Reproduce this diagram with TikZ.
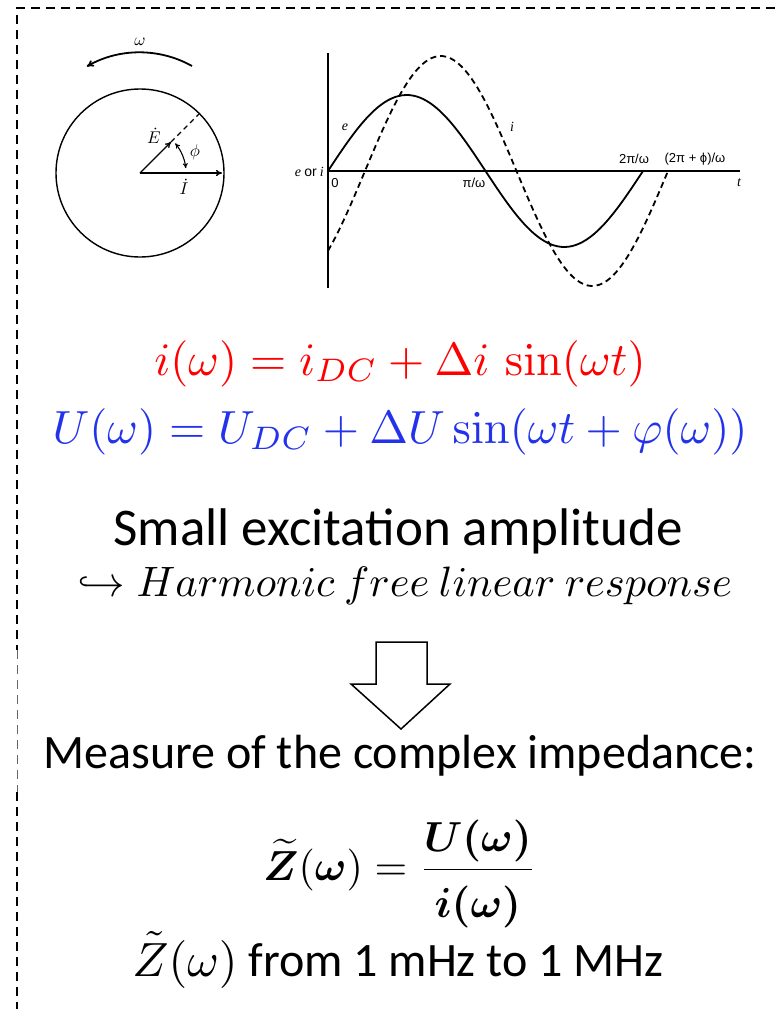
\documentclass[tikz,border=0pt]{standalone}
\usepackage{amsmath,bm}
\usepackage[no-math]{fontspec}
\setmainfont{Carlito}
\newfontfamily\plotserif{Liberation Serif}
\newfontfamily\plotsans{Liberation Sans}
\usetikzlibrary{arrows.meta}
\newcommand\fsz[1]{\fontsize{#1}{#1}\selectfont}
\definecolor{eqred}{RGB}{255,0,0}
\definecolor{eqblue}{RGB}{35,50,235}
\tikzset{
  border/.style={line width=1.6pt, dash pattern=on 9pt off 6pt},
  thinborder/.style={line width=0.7pt, draw=black!60, dash pattern=on 9pt off 6pt},
  fig/.style={line width=1.4pt},
  vec/.style={line width=1.4pt, -{To[length=6pt,width=6pt]}},
  smalllab/.style={inner sep=0, font=\plotserif\itshape\fsz{14}},
  sanslab/.style={inner sep=0, font=\plotsans\fsz{13}},
  bigtxt/.style={inner sep=0, anchor=base, font=\fsz{48}},
  eqtxt/.style={inner sep=0, anchor=base, font=\fsz{10}, scale=4.65},
  mlab/.style={inner sep=0, font=\fsz{10}, scale=1.7},
}
\begin{document}
\begin{tikzpicture}[x=1pt,y=-1pt]
\useasboundingbox (0,0) rectangle (775,1009);
% dashed frame (top and left)
\coordinate (tl) at (17,8);
\coordinate (tr) at (775,8);
\coordinate (l1) at (17,650);
\coordinate (l2) at (17,792);
\coordinate (bl) at (17,1009);
\draw[border] (tr) -- (tl) -- (l1);
\draw[thinborder] (l1) -- (l2);
\draw[border] (l2) -- (bl);

% ---------- phasor diagram ----------
\coordinate (O) at (140,173);
\draw[fig] (O) circle[radius=84];
\coordinate (Itip) at (222,173);
\coordinate (Etip) at (171,142);
\coordinate (Eend) at (199,114);
\draw[vec] (O) -- (Itip);
\draw[vec] (O) -- (Etip);
\draw[line width=1.2pt, dash pattern=on 5pt off 4pt] (Etip) -- (Eend);
\draw[line width=1.1pt, {To[length=5pt,width=5pt]}-{To[length=5pt,width=5pt]}] ([shift={(-40:46)}]O) arc[start angle=-40, end angle=-6, radius=46];
\coordinate (wa) at (192,66);
\draw[line width=1.8pt, -{To[length=7pt,width=7pt]}] (wa) arc[start angle=-60.8, end angle=-119.7, radius=107];
\node[mlab] (wlab) at (140,42) {$\omega$};
\node[mlab] (Elab) at (154,136) {$\dot{E}$};
\node[mlab] (Ilab) at (184,187) {$\dot{I}$};
\node[mlab] (philab) at (195,152) {$\phi$};

% ---------- time plot ----------
\coordinate (P0) at (328,171);
\coordinate (Ptop) at (328,53);
\coordinate (Pbot) at (328,288);
\coordinate (Pend) at (740,171);
\draw[line width=1.4pt] (Ptop) -- (Pbot);
\draw[line width=1.4pt] (P0) -- (Pend);
\draw[line width=1.8pt] plot[domain=328:643, samples=90, smooth] (\x, {171-76*sin((\x-328)/157.5*180)});
\draw[line width=1.8pt, dash pattern=on 6pt off 4pt] plot[domain=328:668, samples=90, smooth] (\x, {171-115*sin((\x-365)/151.5*180)});
\node[smalllab] (elab) at (345,127) {e};
\node[smalllab] (ilab) at (512,127) {i};
\node[inner sep=0, anchor=east, font=\fsz{14}] (eori) at (324,172) {{\plotserif\itshape e} {\plotsans or} {\plotserif\itshape i}};
\node[sanslab] (zero) at (335,183) {0};
\node[sanslab] (piw) at (474,183) {π/ω};
\node[smalllab] (tlab) at (739,183) {t};
\node[sanslab] (twopi) at (634,159) {2π/ω};
\node[sanslab] (twopiphi) at (695,159) {(2π + ϕ)/ω};

% ---------- equations ----------
\node[eqtxt, text=eqred] (eqi) at (400,375) {$i(\omega) = i_{DC} + \Delta i\,\sin(\omega t)$};
\node[eqtxt, text=eqblue] (equ) at (400,443) {$U(\omega) = U_{DC} + \Delta U\sin(\omega t + \varphi(\omega))$};
\node[bigtxt, font=\fsz{53}] (small) at (398,545) {Small excitation amplitude};
\node[eqtxt, scale=4.25/4.65] (harm) at (405,596) {$\hookrightarrow Harmonic\ free\ linear\ response$};

% block arrow
\draw[line width=1.5pt, line join=miter] (376,642) -- (427,642) -- (427,684) -- (450,684) -- (401,729) -- (351,684) -- (376,684) -- cycle;

\node[bigtxt] (measure) at (400,768) {Measure of the complex impedance:};
\node[inner sep=0, anchor=base, font=\fsz{10}, scale=4.2] (frac) at (400,880) {$\displaystyle \widetilde{\bm{Z}}(\bm{\omega}) = \frac{\bm{U(\omega)}\rule[-2.5pt]{0pt}{2.5pt}}{\bm{i(\omega)}\rule{0pt}{10pt}}$};
\node[bigtxt] (range) at (398,976) {\scalebox{4.8}{\fsz{10}$\tilde{Z}(\omega)$} from 1 mHz to 1 MHz};
\end{tikzpicture}
\end{document}
